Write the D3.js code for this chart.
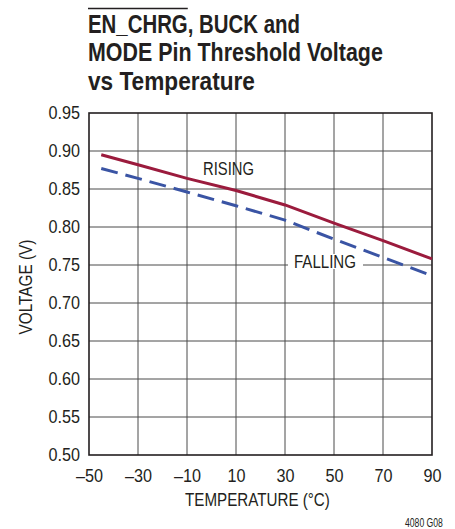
<!DOCTYPE html>
<html><head><meta charset="utf-8">
<script src="https://cdn.jsdelivr.net/npm/d3@7"></script>
<style>
body{margin:0;background:#fff;}
svg text{font-family:"Liberation Sans",Arial,Helvetica,sans-serif;fill:#231f20;}
</style></head>
<body><svg id="c" width="455" height="529"></svg>
<script>
const temps = [-45, -30, -10, 10, 30, 50, 70, 90];
const rising = [0.895, 0.882, 0.864, 0.848, 0.829, 0.805, 0.782, 0.758];
const falling = [0.877, 0.864, 0.846, 0.828, 0.809, 0.784, 0.760, 0.736];
const xTicks = [-50, -30, -10, 10, 30, 50, 70, 90];
const yTicks = [0.50, 0.55, 0.60, 0.65, 0.70, 0.75, 0.80, 0.85, 0.90, 0.95];
const titleLines = ["EN_CHRG, BUCK and", "MODE Pin Threshold Voltage", "vs Temperature"];

const svg = d3.select("#c");
const L = 89, R = 432, T = 113, B = 455;
const x = d3.scaleLinear().domain([-50, 90]).range([L, R]);
const y = d3.scaleLinear().domain([0.50, 0.95]).range([B, T]);

// text helper: horizontally condensed to a target width
function fitText(parent, str, px, py, size, weight, width, anchor, rotate) {
  const g = parent.append("g");
  const t = g.append("text").attr("font-size", size).attr("font-weight", weight)
    .attr("text-anchor", anchor).text(str);
  const w = t.node().getComputedTextLength();
  const s = width / w;
  g.attr("transform", `translate(${px},${py})` + (rotate ? ` rotate(${rotate})` : "") + ` scale(${s},1)`);
  return s;
}

// grid
svg.append("g").selectAll("line").data(xTicks.slice(1, -1)).join("line")
  .attr("x1", d => x(d)).attr("x2", d => x(d)).attr("y1", T).attr("y2", B)
  .attr("stroke", "#4a4a4a").attr("stroke-width", 1);
svg.append("g").selectAll("line").data(yTicks.slice(1, -1)).join("line")
  .attr("y1", d => y(d)).attr("y2", d => y(d)).attr("x1", L).attr("x2", R)
  .attr("stroke", "#4a4a4a").attr("stroke-width", 1);

// axes (labels)
const fmtY = d3.format(".2f");
const yAxis = svg.append("g").attr("transform", `translate(${L},0)`)
  .call(d3.axisLeft(y).tickValues(yTicks).tickFormat(fmtY).tickSize(0).tickPadding(0));
yAxis.select(".domain").remove();
yAxis.selectAll("text").attr("font-size", 18).attr("fill", "#231f20").attr("font-family", null)
  .attr("x", null).attr("transform", "translate(-9,0) scale(0.9,1)");

const xAxis = svg.append("g").attr("transform", `translate(0,${B})`)
  .call(d3.axisBottom(x).tickValues(xTicks).tickFormat(d => d < 0 ? "\u2013" + Math.abs(d) : d).tickSize(0).tickPadding(0));
xAxis.select(".domain").remove();
xAxis.selectAll("text").attr("font-size", 18).attr("fill", "#231f20").attr("font-family", null)
  .attr("y", null).attr("dy", null).attr("transform", "translate(0,27) scale(0.9,1)");

// frame
svg.append("rect").attr("x", L).attr("y", T).attr("width", R - L).attr("height", B - T)
  .attr("fill", "none").attr("stroke", "#231f20").attr("stroke-width", 1.6);

// lines
const line = d3.line().x((d, i) => x(temps[i])).y(d => y(d));
svg.append("path").datum(rising).attr("d", line).attr("fill", "none")
  .attr("stroke", "#9b1b3d").attr("stroke-width", 3);
svg.append("path").datum(falling).attr("d", line).attr("fill", "none")
  .attr("stroke", "#3a54a4").attr("stroke-width", 3).attr("stroke-dasharray", "17,8");

// labels
fitText(svg, "RISING", 203, 175, 18, "normal", 51, "start");
svg.append("rect").attr("x", 288).attr("y", 254).attr("width", 75).attr("height", 15).attr("fill", "#fff");
fitText(svg, "FALLING", 294, 268, 18, "normal", 62, "start");

// axis titles
fitText(svg, "TEMPERATURE (\u00b0C)", 185, 506, 18, "normal", 145, "start");
fitText(svg, "VOLTAGE (V)", 32, 287, 18, "normal", 95, "middle", -90);
fitText(svg, "4080 G08", 405, 527, 12, "normal", 38, "start");

// title
const widths = [212, 295, 167];
let s0 = 1;
titleLines.forEach((t, i) => {
  const s = fitText(svg, t, 88, 32.5 + i * 28.5, 26, "bold", widths[i], "start");
  if (i === 0) s0 = s;
});
// overline above EN_CHRG
const tmp = svg.append("text").attr("font-size", 26).attr("font-weight", "bold").attr("opacity", 0).text("EN_CHRG");
const w = tmp.node().getComputedTextLength() * s0;
tmp.remove();
svg.append("line").attr("x1", 88).attr("x2", 88 + w).attr("y1", 8.5).attr("y2", 8.5)
  .attr("stroke", "#231f20").attr("stroke-width", 1.6);
</script></body></html>
